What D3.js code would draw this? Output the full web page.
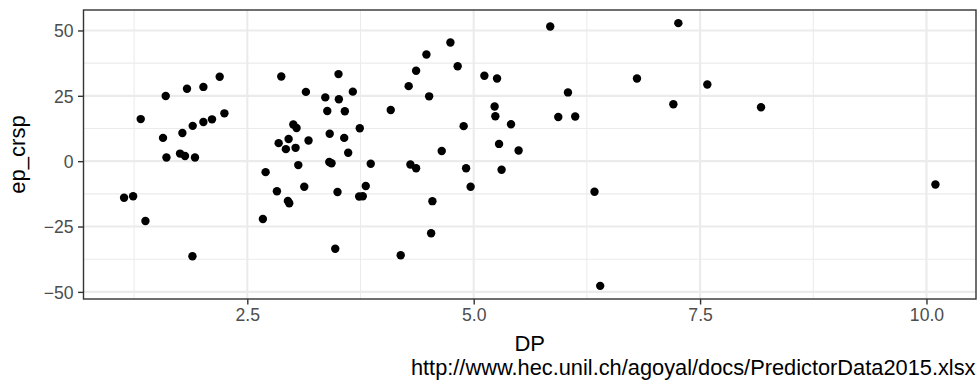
<!DOCTYPE html>
<html>
<head>
<meta charset="utf-8">
<script src="https://cdn.jsdelivr.net/npm/d3@7"></script>
<style>
  html, body { margin: 0; padding: 0; background: #fff; }
  svg { display: block; }
  text { font-family: "Liberation Sans", Arial, Helvetica, sans-serif; }
</style>
</head>
<body>
<svg id="chart" width="977" height="381"></svg>
<script>
// ---- data ----
const dpValues = [
  1.139, 1.239, 1.323, 1.375, 1.569, 1.599, 1.607, 1.757, 1.783, 1.812,
  1.834, 1.894, 1.897, 1.922, 2.015, 2.015, 2.110, 2.195, 2.247,
  2.672, 2.702, 2.827, 2.846, 2.875, 2.926, 2.956, 2.948, 2.963, 3.008,
  3.044, 3.033, 3.063, 3.129, 3.147, 3.176, 3.361, 3.383, 3.410, 3.405,
  3.430, 3.471, 3.496, 3.507, 3.511, 3.570, 3.577, 3.614, 3.665, 3.735,
  3.775, 3.742, 3.808, 3.863, 4.084, 4.194, 4.282, 4.301, 4.364, 4.364,
  4.478, 4.508, 4.530, 4.544, 4.647, 4.743, 4.823, 4.889, 4.916, 4.966,
  5.118, 5.231, 5.239, 5.258, 5.280, 5.308, 5.412, 5.496, 5.845, 5.934,
  6.041, 6.121, 6.334, 6.397, 6.803, 7.205, 7.260, 7.580, 8.173, 10.099
];
const epCrspValues = [
  -14.0, -13.4, 16.1, -22.9, 8.9, 24.9, 1.4, 2.9, 10.8, 2.0,
  27.7, -36.4, 13.5, 1.4, 28.4, 15.0, 16.0, 32.3, 18.3,
  -22.1, -4.2, -11.5, 6.9, 32.4, 4.6, 8.5, -15.2, -16.1, 14.0,
  12.7, 5.1, -1.5, -9.8, 26.5, 7.9, 24.4, 19.2, 10.5, -0.3,
  -0.8, -33.5, -11.8, 33.3, 23.7, 8.9, 19.1, 3.2, 26.6, -13.5,
  -13.4, 12.6, -9.5, -1.0, 19.6, -36.0, 28.7, -1.3, -2.7, 34.6,
  40.8, 24.8, -27.6, -15.3, 3.9, 45.4, 36.3, 13.4, -2.7, -9.8,
  32.7, 20.9, 17.2, 31.6, 6.6, -3.3, 14.1, 4.1, 51.5, 16.9,
  26.3, 17.1, -11.7, -47.7, 31.6, 21.8, 52.8, 29.3, 20.6, -8.9
];
const xTicks = [2.5, 5.0, 7.5, 10.0];
const xTickLabels = ["2.5", "5.0", "7.5", "10.0"];
const xMinor = [1.25, 3.75, 6.25, 8.75];
const yTicks = [-50, -25, 0, 25, 50];
const yTickLabels = ["\u221250", "\u221225", "0", "25", "50"];
const yMinor = [-37.5, -12.5, 12.5, 37.5];
const xTitle = "DP";
const yTitle = "ep_crsp";
const caption = "http://www.hec.unil.ch/agoyal/docs/PredictorData2015.xlsx";

// ---- layout ----
const panel = { left: 83.5, right: 976, top: 10, bottom: 299 };
const svg = d3.select("#chart");

function expand(ext) {
  const d = (ext[1] - ext[0]) * 0.05;
  return [ext[0] - d, ext[1] + d];
}
const x = d3.scaleLinear().domain(expand(d3.extent(dpValues))).range([panel.left, panel.right]);
const y = d3.scaleLinear().domain(expand(d3.extent(epCrspValues))).range([panel.bottom, panel.top]);

const points = dpValues.map((d, i) => ({ x: d, y: epCrspValues[i] }));

// panel background
svg.append("rect")
  .attr("x", panel.left).attr("y", panel.top)
  .attr("width", panel.right - panel.left).attr("height", panel.bottom - panel.top)
  .attr("fill", "#fff");

// grid
const grid = svg.append("g");
grid.selectAll("line.xminor").data(xMinor).join("line")
  .attr("x1", d => x(d)).attr("x2", d => x(d))
  .attr("y1", panel.top).attr("y2", panel.bottom)
  .attr("stroke", "#EBEBEB").attr("stroke-width", 1.07);
grid.selectAll("line.yminor").data(yMinor).join("line")
  .attr("y1", d => y(d)).attr("y2", d => y(d))
  .attr("x1", panel.left).attr("x2", panel.right)
  .attr("stroke", "#EBEBEB").attr("stroke-width", 1.07);
grid.selectAll("line.xmajor").data(xTicks).join("line")
  .attr("x1", d => x(d)).attr("x2", d => x(d))
  .attr("y1", panel.top).attr("y2", panel.bottom)
  .attr("stroke", "#EBEBEB").attr("stroke-width", 2.13);
grid.selectAll("line.ymajor").data(yTicks).join("line")
  .attr("y1", d => y(d)).attr("y2", d => y(d))
  .attr("x1", panel.left).attr("x2", panel.right)
  .attr("stroke", "#EBEBEB").attr("stroke-width", 2.13);

// points
svg.append("g").selectAll("circle").data(points).join("circle")
  .attr("cx", d => x(d.x)).attr("cy", d => y(d.y))
  .attr("r", 4.2).attr("fill", "#000");

// panel border
svg.append("rect")
  .attr("x", panel.left).attr("y", panel.top)
  .attr("width", panel.right - panel.left).attr("height", panel.bottom - panel.top)
  .attr("fill", "none").attr("stroke", "#333333").attr("stroke-width", 1.4);

// axes
const xAxis = d3.axisBottom(x).tickValues(xTicks).tickFormat((d, i) => xTickLabels[i])
  .tickSizeInner(5.5).tickSizeOuter(0).tickPadding(4);
const gx = svg.append("g").attr("transform", `translate(0,${panel.bottom})`).call(xAxis);
gx.select(".domain").remove();
gx.selectAll(".tick line").attr("stroke", "#333333").attr("stroke-width", 1.4);
gx.selectAll(".tick text").attr("fill", "#4D4D4D").attr("font-size", 17.6)
  .attr("font-family", "Liberation Sans, Arial, sans-serif").attr("dy", "0.71em").attr("y", 9.5);

const yAxis = d3.axisLeft(y).tickValues(yTicks).tickFormat((d, i) => yTickLabels[i])
  .tickSizeInner(5.5).tickSizeOuter(0).tickPadding(4.4);
const gy = svg.append("g").attr("transform", `translate(${panel.left},0)`).call(yAxis);
gy.select(".domain").remove();
gy.selectAll(".tick line").attr("stroke", "#333333").attr("stroke-width", 1.4);
gy.selectAll(".tick text").attr("fill", "#4D4D4D").attr("font-size", 17.6)
  .attr("font-family", "Liberation Sans, Arial, sans-serif").attr("dy", "0.36em");

// titles
svg.append("text")
  .attr("x", (panel.left + panel.right) / 2).attr("y", 350.5)
  .attr("text-anchor", "middle").attr("font-size", 22).attr("fill", "#000")
  .text(xTitle);
svg.append("text")
  .attr("transform", `translate(24.5,${(panel.top + panel.bottom) / 2}) rotate(-90)`)
  .attr("text-anchor", "middle").attr("font-size", 22).attr("fill", "#000")
  .text(yTitle);
svg.append("text")
  .attr("x", 975.5).attr("y", 375.3)
  .attr("text-anchor", "end").attr("font-size", 21.8).attr("fill", "#000")
  .text(caption);
</script>
</body>
</html>
